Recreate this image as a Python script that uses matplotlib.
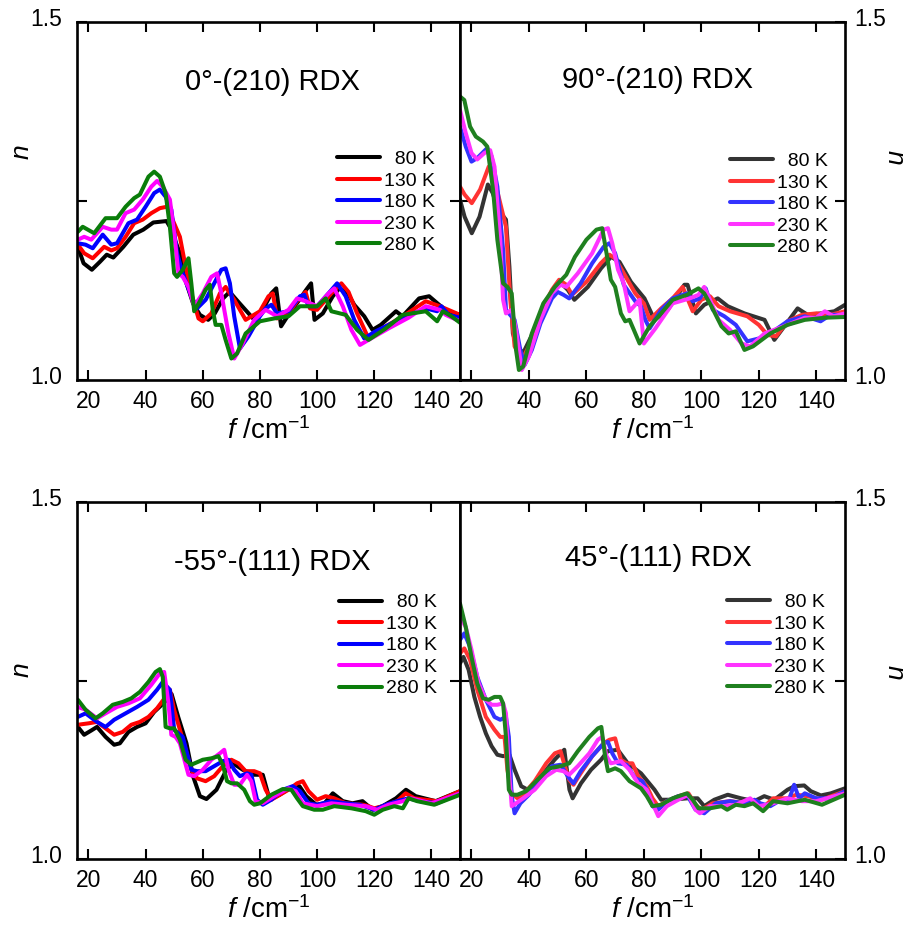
import matplotlib
matplotlib.use("Agg")
import matplotlib.pyplot as plt
from matplotlib.transforms import ScaledTranslation

plt.rcParams["font.family"] = ["Liberation Sans", "DejaVu Sans"]
plt.rcParams["mathtext.fontset"] = "custom"
plt.rcParams["mathtext.rm"] = "Liberation Sans"
plt.rcParams["mathtext.it"] = "Liberation Sans:italic"

temps = ["  80 K", "130 K", "180 K", "230 K", "280 K"]
titles = ["0°-(210) RDX", "90°-(210) RDX", "-55°-(111) RDX", "45°-(111) RDX"]

# panel a: 0°-(210)
a_f80 = [16.3, 18.3, 21.2, 24, 26.4, 28.7, 32.2, 35.7, 39.2, 42.7, 47.3, 48.5, 52, 54.3, 56.6, 59, 61.9, 64.2, 67.1, 69.4, 72.9, 77.6, 81, 84, 85.7, 87.4, 90.3, 93.8, 96.2, 97.9, 99.1, 102, 105.5, 107.8, 110.7, 113, 116.5, 119.4, 122.3, 127.6, 129.9, 135.7, 139.2, 142.7, 145.6, 150]
a_n80 = [1.186, 1.163, 1.154, 1.165, 1.175, 1.171, 1.186, 1.203, 1.21, 1.22, 1.222, 1.214, 1.177, 1.135, 1.107, 1.091, 1.084, 1.093, 1.114, 1.123, 1.107, 1.086, 1.098, 1.121, 1.128, 1.075, 1.093, 1.112, 1.126, 1.135, 1.084, 1.093, 1.117, 1.128, 1.121, 1.105, 1.089, 1.07, 1.077, 1.096, 1.089, 1.114, 1.117, 1.105, 1.096, 1.091]
a_f130 = [16.3, 18.5, 21.5, 25.5, 28, 30, 33, 36, 39, 42, 45, 47.5, 49, 52, 54, 56, 58.5, 60, 63, 66, 68, 71, 75, 80, 83, 84.5, 86, 90, 93, 96, 97.5, 100, 105, 108.5, 111, 114, 118, 122, 130, 138, 143, 150]
a_n130 = [1.189, 1.177, 1.17, 1.186, 1.181, 1.184, 1.2, 1.219, 1.224, 1.233, 1.24, 1.242, 1.228, 1.2, 1.158, 1.121, 1.086, 1.082, 1.093, 1.121, 1.13, 1.112, 1.084, 1.096, 1.117, 1.121, 1.086, 1.093, 1.11, 1.123, 1.1, 1.098, 1.121, 1.135, 1.123, 1.093, 1.058, 1.07, 1.089, 1.11, 1.103, 1.091]
a_f180 = [16.3, 19, 21.5, 25, 28, 30, 34, 37, 40, 43, 45, 47, 49, 51, 53, 56, 58, 61, 64, 66.5, 68, 69.5, 71, 73, 76, 80, 82, 84, 86, 90, 94, 95.5, 97, 100, 104, 107, 110, 113, 116.5, 120, 130, 138, 142, 143.5, 146, 150]
a_n180 = [1.191, 1.189, 1.184, 1.203, 1.189, 1.191, 1.219, 1.224, 1.242, 1.261, 1.266, 1.256, 1.238, 1.177, 1.149, 1.117, 1.1, 1.112, 1.135, 1.154, 1.156, 1.135, 1.089, 1.044, 1.061, 1.089, 1.1, 1.105, 1.093, 1.096, 1.117, 1.119, 1.103, 1.103, 1.121, 1.135, 1.117, 1.084, 1.058, 1.067, 1.087, 1.1, 1.096, 1.103, 1.091, 1.087]
a_f230 = [16.3, 18.5, 21, 25, 28, 30, 33, 36, 39, 42, 44, 46, 48.5, 50, 51.5, 53, 55, 57, 60, 63, 65, 66.5, 69, 71, 74, 78, 82, 86, 90, 93, 96, 100, 104, 106, 109, 112, 115, 118, 125, 132, 138, 143, 145, 150]
a_n230 = [1.196, 1.2, 1.196, 1.214, 1.21, 1.21, 1.233, 1.238, 1.252, 1.27, 1.278, 1.27, 1.252, 1.205, 1.149, 1.144, 1.13, 1.103, 1.121, 1.144, 1.149, 1.121, 1.065, 1.03, 1.051, 1.084, 1.098, 1.089, 1.098, 1.114, 1.11, 1.103, 1.121, 1.128, 1.103, 1.07, 1.049, 1.056, 1.072, 1.087, 1.103, 1.098, 1.091, 1.082]
a_f280 = [16.3, 18, 22, 26, 30, 33, 36, 38, 41, 43, 45, 47, 48.5, 50, 51, 53, 55, 56, 57, 59, 61, 62.5, 63.5, 64.5, 66.5, 68, 70, 72, 75, 80, 85, 90, 94, 100, 103, 105, 110, 114, 118, 124, 130, 138, 142, 144, 147, 150]
a_n280 = [1.207, 1.214, 1.205, 1.226, 1.226, 1.242, 1.254, 1.259, 1.284, 1.291, 1.284, 1.261, 1.214, 1.149, 1.144, 1.154, 1.17, 1.135, 1.096, 1.11, 1.126, 1.133, 1.098, 1.077, 1.077, 1.056, 1.03, 1.037, 1.065, 1.082, 1.086, 1.089, 1.103, 1.103, 1.114, 1.096, 1.091, 1.07, 1.056, 1.072, 1.091, 1.096, 1.082, 1.096, 1.089, 1.08]

# panel b: 90°-(210)
b_f80 = [16, 17.6, 20.1, 22.8, 25.7, 27.4, 29.2, 32, 33.2, 34.4, 35.5, 37.9, 40.8, 44.2, 48.9, 51.2, 53.5, 55.8, 60.5, 65.1, 68.6, 71.5, 75.5, 80.2, 83.7, 88.3, 94.1, 95.2, 98.1, 101, 105.7, 109.2, 115, 122, 125.4, 128.9, 133.5, 137, 141.6, 146.3, 150]
b_n80 = [1.252, 1.228, 1.205, 1.228, 1.273, 1.261, 1.238, 1.224, 1.158, 1.065, 1.051, 1.037, 1.061, 1.093, 1.126, 1.135, 1.126, 1.112, 1.13, 1.156, 1.172, 1.165, 1.137, 1.114, 1.084, 1.098, 1.133, 1.133, 1.093, 1.105, 1.114, 1.103, 1.093, 1.084, 1.056, 1.075, 1.1, 1.091, 1.093, 1.096, 1.105]
b_f130 = [16, 17.6, 20.1, 23, 26, 28, 30, 32, 33.5, 35, 37.5, 40, 44, 48, 50.5, 53, 55, 60, 65, 68, 70, 73, 77, 80, 82, 86, 90, 93.5, 97, 100, 103, 106, 110, 116, 120, 123, 126, 130, 135, 140, 145, 150]
b_n130 = [1.27, 1.259, 1.247, 1.266, 1.298, 1.28, 1.247, 1.214, 1.112, 1.047, 1.028, 1.047, 1.093, 1.126, 1.14, 1.133, 1.119, 1.137, 1.163, 1.175, 1.17, 1.149, 1.121, 1.107, 1.084, 1.1, 1.114, 1.13, 1.096, 1.112, 1.117, 1.103, 1.096, 1.089, 1.077, 1.063, 1.061, 1.082, 1.091, 1.093, 1.091, 1.096]
b_f180 = [16, 18, 20, 22, 25.5, 27, 29, 31, 32, 33, 35, 37, 38.5, 41, 44, 48, 50, 52, 54, 58, 62, 66, 68, 70, 73, 77, 79, 80.5, 82, 86, 90, 95, 97, 99.5, 101.5, 104, 108, 112, 116, 120, 124, 130, 136, 141.5, 145, 150]
b_n180 = [1.354, 1.326, 1.305, 1.31, 1.324, 1.312, 1.27, 1.182, 1.098, 1.093, 1.084, 1.042, 1.021, 1.042, 1.079, 1.114, 1.123, 1.119, 1.114, 1.135, 1.163, 1.186, 1.191, 1.177, 1.133, 1.11, 1.103, 1.084, 1.072, 1.098, 1.114, 1.121, 1.11, 1.114, 1.128, 1.098, 1.089, 1.077, 1.054, 1.058, 1.065, 1.082, 1.089, 1.082, 1.091, 1.091]
b_f230 = [16, 18, 20, 22, 24.5, 26.5, 28, 30, 31, 32, 34, 35.5, 37.5, 40, 44, 48, 51, 53, 57, 62, 66, 67.5, 69, 71, 73, 75, 77, 78.5, 80, 84, 90, 96, 99, 101, 103, 106, 110, 114, 117, 122, 130, 136, 140, 143, 146, 150]
b_n230 = [1.377, 1.345, 1.317, 1.308, 1.317, 1.321, 1.298, 1.196, 1.112, 1.093, 1.098, 1.07, 1.014, 1.033, 1.084, 1.121, 1.133, 1.13, 1.149, 1.177, 1.21, 1.212, 1.191, 1.154, 1.135, 1.096, 1.105, 1.112, 1.051, 1.072, 1.107, 1.114, 1.119, 1.13, 1.112, 1.084, 1.07, 1.051, 1.047, 1.065, 1.077, 1.087, 1.087, 1.096, 1.089, 1.093]
b_f280 = [16, 17.5, 19.5, 21.5, 24, 25.5, 27.5, 29, 31, 32.5, 34, 35.5, 36.5, 38, 41, 45, 49, 53, 56, 60, 63.5, 65.5, 67, 68.5, 70, 72, 73.5, 75, 76.5, 78.5, 82, 86, 90, 95, 99, 101, 103.5, 107, 109.5, 112, 115, 118, 124, 130, 136, 143, 150]
b_n280 = [1.396, 1.391, 1.354, 1.34, 1.333, 1.326, 1.266, 1.196, 1.135, 1.13, 1.121, 1.042, 1.014, 1.019, 1.065, 1.107, 1.13, 1.147, 1.172, 1.196, 1.21, 1.212, 1.177, 1.14, 1.13, 1.093, 1.082, 1.084, 1.07, 1.051, 1.075, 1.093, 1.112, 1.119, 1.128, 1.121, 1.103, 1.075, 1.065, 1.068, 1.042, 1.047, 1.065, 1.077, 1.084, 1.087, 1.088]

# panel c: -55°-(111)
c_f80 = [16.3, 18.5, 21, 23, 26, 29, 31, 34, 37, 40, 43, 46.2, 49.1, 51.4, 54.3, 56.6, 59, 61.3, 64.8, 68.3, 70.6, 74, 77.6, 81, 83.4, 86.9, 90.3, 93.8, 96.2, 99.7, 102.6, 105.5, 109, 112.4, 115.9, 119.4, 122.9, 127.6, 131.1, 134.5, 141.5, 150]
c_n80 = [1.185, 1.174, 1.18, 1.185, 1.171, 1.16, 1.162, 1.178, 1.185, 1.19, 1.206, 1.218, 1.231, 1.199, 1.162, 1.116, 1.088, 1.084, 1.097, 1.125, 1.134, 1.125, 1.118, 1.118, 1.083, 1.09, 1.099, 1.102, 1.088, 1.076, 1.078, 1.092, 1.081, 1.078, 1.081, 1.069, 1.074, 1.085, 1.097, 1.088, 1.081, 1.095]
c_f130 = [16.3, 20, 23, 26, 29, 32, 35, 38, 41, 44, 47, 48.5, 50, 52, 54, 56, 58, 61, 64, 67, 70, 72.5, 75, 78, 80, 82, 84, 87, 90, 93, 95, 97, 100, 103, 106, 110, 116, 118, 120, 123, 128, 131, 134, 142, 150]
c_n130 = [1.188, 1.19, 1.192, 1.183, 1.174, 1.178, 1.188, 1.192, 1.199, 1.211, 1.227, 1.237, 1.209, 1.181, 1.153, 1.125, 1.113, 1.109, 1.116, 1.13, 1.139, 1.134, 1.123, 1.123, 1.12, 1.097, 1.083, 1.09, 1.097, 1.106, 1.109, 1.095, 1.083, 1.088, 1.085, 1.078, 1.076, 1.074, 1.071, 1.074, 1.081, 1.092, 1.085, 1.081, 1.095]
c_f180 = [16.3, 19, 23, 26, 29, 33, 37, 41, 44, 46, 48.5, 50, 51.5, 53, 56, 58, 61, 64, 67, 69, 71, 73, 75.5, 77, 79, 81, 84, 88, 91.5, 94, 97, 100, 105, 110, 115, 120, 124, 128, 132, 136, 142, 150]
c_n180 = [1.199, 1.204, 1.192, 1.185, 1.195, 1.204, 1.213, 1.223, 1.237, 1.248, 1.237, 1.181, 1.176, 1.171, 1.125, 1.123, 1.123, 1.13, 1.137, 1.139, 1.125, 1.116, 1.12, 1.118, 1.083, 1.076, 1.083, 1.097, 1.102, 1.095, 1.078, 1.076, 1.081, 1.078, 1.076, 1.069, 1.076, 1.081, 1.085, 1.081, 1.078, 1.092]
c_f230 = [16.3, 19, 23, 26, 30, 34, 38, 42, 45, 46.5, 48, 49, 50.5, 52, 55, 57, 60, 63, 66, 67.5, 69, 71, 73, 75.5, 77, 78.5, 81, 85, 90, 92.5, 95, 100, 105, 110, 117, 121, 125, 130, 133, 140, 150]
c_n230 = [1.213, 1.209, 1.197, 1.204, 1.213, 1.218, 1.225, 1.244, 1.26, 1.262, 1.218, 1.174, 1.171, 1.162, 1.118, 1.116, 1.125, 1.139, 1.148, 1.153, 1.125, 1.104, 1.104, 1.118, 1.109, 1.081, 1.078, 1.088, 1.099, 1.095, 1.078, 1.074, 1.078, 1.076, 1.074, 1.069, 1.076, 1.081, 1.085, 1.078, 1.092]
c_f280 = [16.3, 19, 22.5, 25, 28.5, 32, 35, 38, 41, 43.5, 45, 46, 47, 48.5, 50, 52, 54, 56, 60, 63, 65.5, 67, 68.5, 70, 72, 74.5, 76.5, 78, 80, 84, 88, 91, 93, 95, 99, 102, 106, 112, 117, 120, 123, 127, 130, 132, 135, 141, 150]
c_n280 = [1.223, 1.209, 1.197, 1.204, 1.216, 1.22, 1.225, 1.234, 1.248, 1.262, 1.266, 1.255, 1.185, 1.183, 1.183, 1.167, 1.139, 1.132, 1.139, 1.141, 1.144, 1.132, 1.109, 1.106, 1.106, 1.097, 1.081, 1.076, 1.078, 1.09, 1.098, 1.097, 1.085, 1.074, 1.069, 1.069, 1.074, 1.071, 1.067, 1.062, 1.069, 1.074, 1.071, 1.085, 1.081, 1.076, 1.09]

# panel d: 45°-(111)
d_f80 = [16, 17.2, 19, 21, 23, 25, 27, 29, 31, 33.2, 35, 37.3, 39.6, 44.2, 48.9, 52.3, 54.1, 55.2, 58.1, 61.6, 65.1, 67.4, 70.9, 74.4, 79, 83.7, 86, 89.4, 95.2, 98.7, 101, 104.5, 109.2, 113.8, 118.4, 121.9, 125.4, 130, 132.4, 135.8, 138.1, 141.6, 145.1, 150]
d_n80 = [1.274, 1.283, 1.265, 1.227, 1.199, 1.176, 1.158, 1.146, 1.144, 1.146, 1.125, 1.102, 1.097, 1.116, 1.139, 1.153, 1.097, 1.085, 1.106, 1.125, 1.139, 1.151, 1.153, 1.134, 1.12, 1.097, 1.083, 1.083, 1.085, 1.085, 1.074, 1.083, 1.09, 1.085, 1.081, 1.088, 1.083, 1.097, 1.102, 1.103, 1.095, 1.089, 1.092, 1.099]
d_f130 = [16, 17.5, 19.5, 22, 25, 28, 30, 31.5, 32.5, 34, 36, 38, 42, 46, 49, 51, 52.5, 54, 55.5, 58, 62, 66, 68, 70, 72, 74, 76, 78, 81, 83, 85, 88, 92, 95.5, 98, 100, 104, 110, 116, 120, 122, 125, 130, 133, 137, 142, 150]
d_n130 = [1.288, 1.295, 1.279, 1.237, 1.199, 1.181, 1.171, 1.171, 1.125, 1.092, 1.085, 1.09, 1.109, 1.134, 1.148, 1.151, 1.13, 1.111, 1.104, 1.12, 1.144, 1.162, 1.167, 1.169, 1.139, 1.134, 1.134, 1.116, 1.102, 1.085, 1.074, 1.081, 1.088, 1.092, 1.076, 1.069, 1.078, 1.081, 1.078, 1.078, 1.074, 1.085, 1.085, 1.09, 1.088, 1.083, 1.095]
d_f180 = [16, 17.5, 19.5, 22, 25, 28, 30, 32, 33, 34, 35, 37, 40, 44, 48, 51, 54, 55.5, 58, 62, 66, 67.5, 69, 71, 74, 77, 79.5, 81, 83, 85, 88, 92, 95, 98, 101, 105, 110, 115, 118.5, 120.5, 124, 127, 130.5, 132.3, 134, 136, 140, 145, 150]
d_n180 = [1.307, 1.316, 1.297, 1.255, 1.223, 1.199, 1.195, 1.199, 1.171, 1.088, 1.064, 1.078, 1.09, 1.111, 1.13, 1.132, 1.113, 1.106, 1.123, 1.144, 1.162, 1.164, 1.148, 1.134, 1.132, 1.113, 1.109, 1.097, 1.074, 1.069, 1.081, 1.088, 1.09, 1.069, 1.064, 1.078, 1.081, 1.078, 1.083, 1.078, 1.074, 1.081, 1.083, 1.104, 1.085, 1.092, 1.085, 1.085, 1.095]
d_f230 = [16, 18, 20, 22.5, 25, 27, 29, 31, 32, 33, 34, 35.5, 38, 42, 46, 49.5, 52, 54, 57, 61, 64, 65.5, 67, 68.5, 72, 75, 78, 81, 83, 85, 88, 92, 95.5, 98, 99.5, 103, 108, 112, 117, 120, 125, 130, 135, 140, 150]
d_n230 = [1.339, 1.325, 1.293, 1.246, 1.223, 1.216, 1.216, 1.218, 1.204, 1.125, 1.074, 1.078, 1.085, 1.097, 1.116, 1.125, 1.123, 1.118, 1.13, 1.148, 1.167, 1.171, 1.144, 1.134, 1.137, 1.125, 1.106, 1.097, 1.078, 1.06, 1.074, 1.083, 1.09, 1.069, 1.064, 1.074, 1.074, 1.076, 1.085, 1.074, 1.078, 1.085, 1.081, 1.081, 1.092]
d_f280 = [16, 18, 20, 22, 24, 26, 28, 30, 31, 32, 33, 34, 36, 39, 43, 47, 51, 54, 57, 61, 64, 65.2, 66.5, 67.5, 70, 72, 75, 79, 81, 83, 86, 90, 95, 97, 99, 103, 107, 109, 112, 115, 118, 121.5, 125, 130, 136, 142, 150]
d_n280 = [1.358, 1.325, 1.283, 1.246, 1.225, 1.223, 1.227, 1.227, 1.218, 1.171, 1.097, 1.09, 1.09, 1.095, 1.111, 1.127, 1.13, 1.134, 1.151, 1.171, 1.183, 1.185, 1.144, 1.123, 1.127, 1.123, 1.109, 1.099, 1.088, 1.074, 1.076, 1.085, 1.092, 1.083, 1.071, 1.071, 1.074, 1.069, 1.076, 1.074, 1.078, 1.067, 1.081, 1.078, 1.083, 1.076, 1.09]

series = [
    [(a_f80, a_n80), (a_f130, a_n130), (a_f180, a_n180), (a_f230, a_n230), (a_f280, a_n280)],
    [(b_f80, b_n80), (b_f130, b_n130), (b_f180, b_n180), (b_f230, b_n230), (b_f280, b_n280)],
    [(c_f80, c_n80), (c_f130, c_n130), (c_f180, c_n180), (c_f230, c_n230), (c_f280, c_n280)],
    [(d_f80, d_n80), (d_f130, d_n130), (d_f180, d_n180), (d_f230, d_n230), (d_f280, d_n280)],
]

colors_left = ["#000000", "#ff0000", "#0000ff", "#ff00ff", "#0a7d0a"]
colors_right = ["#333333", "#ff3333", "#3333ff", "#ff33ff", "#1f801f"]

W, H = 909, 926
fig = plt.figure(figsize=(W / 100, H / 100), dpi=100)

# axes boxes in pixels: left, top, right, bottom
boxes = [(77, 22, 460, 380), (460, 22, 845, 380), (77, 502, 460, 859), (460, 502, 845, 859)]
title_pos = [(0.51, 0.832), (0.514, 0.838), (0.51, 0.832), (0.514, 0.843)]
legend_pos = [(0.935, 0.641), (0.955, 0.635), (0.94, 0.743), (0.947, 0.744)]
nlabel_pos = [(22, 152), (895, 157), (22, 670), (895, 672)]

for i, (l, t, r, b) in enumerate(boxes):
    ax = fig.add_axes([l / W, 1 - b / H, (r - l) / W, (b - t) / H])
    right = i % 2 == 1
    cols = colors_right if right else colors_left
    for (f, n), c, lab in zip(series[i], cols, temps):
        ax.plot(f, n, color=c, lw=2.9, label=lab, solid_joinstyle="round",
                solid_capstyle="round")

    ax.set_xlim(16, 150)
    ax.set_ylim(1.0, 1.5)
    ax.set_xticks([20, 40, 60, 80, 100, 120, 140])
    ax.set_yticks([1.0, 1.25, 1.5])
    ax.set_yticklabels(["1.0", "", "1.5"])
    for s in ax.spines.values():
        s.set_linewidth(1.9)
    ax.tick_params(axis="both", direction="in", length=7, width=1.5,
                   top=True, right=True, labelsize=16.5)
    ax.tick_params(axis="x", pad=7)
    if right:
        ax.tick_params(axis="y", labelleft=False, labelright=True, pad=7)
    else:
        ax.tick_params(axis="y", pad=11)
    for tk in ax.yaxis.get_major_ticks():
        for lb in (tk.label1, tk.label2):
            lb.set_transform(lb.get_transform() + ScaledTranslation(0, 0.05, fig.dpi_scale_trans))

    ax.set_xlabel(r"$f$ /cm$^{-1}$", fontsize=20, labelpad=3)
    ax.text(title_pos[i][0], title_pos[i][1], titles[i], transform=ax.transAxes,
            ha="center", va="center", fontsize=21)
    ax.legend(loc="upper right", bbox_to_anchor=legend_pos[i], frameon=False,
              fontsize=14, borderpad=0, borderaxespad=0, labelspacing=0.2,
              handlelength=2.2, handletextpad=0.2)

    nx, ny = nlabel_pos[i]
    fig.text(nx / W, 1 - ny / H, "n", style="italic", fontsize=19,
             rotation=-90 if right else 90, ha="center", va="center")

fig.savefig("out.png", dpi=100)
